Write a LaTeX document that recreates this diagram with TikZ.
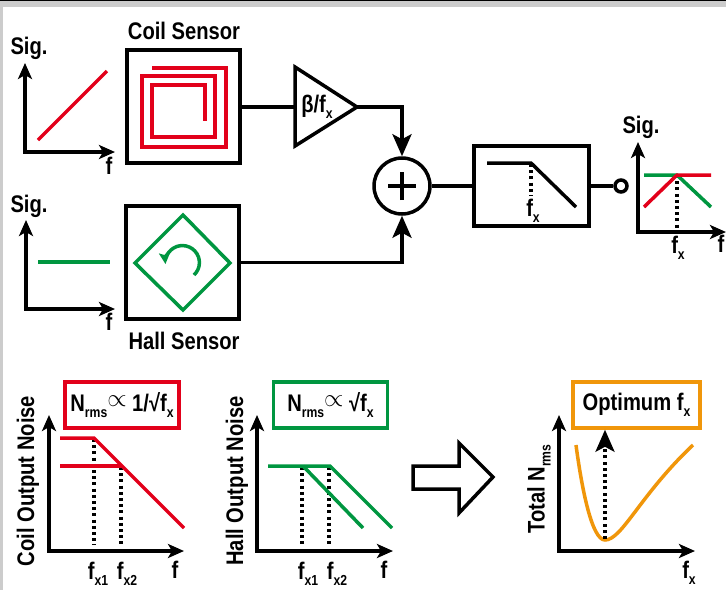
\documentclass[tikz,border=0pt]{standalone}
\usepackage{fontspec}
\setmainfont[FakeStretch=0.84]{Liberation Sans}
\usetikzlibrary{arrows.meta}
\definecolor{coilred}{RGB}{226,0,26}
\definecolor{hallgreen}{RGB}{0,150,64}
\definecolor{optorange}{RGB}{240,150,10}
\newcommand{\lowtxt}[1]{\raisebox{-6pt}{\fontsize{14.5}{14.5}\selectfont #1}}
\tikzset{axistip/.tip={Stealth[length=16pt,width=14pt,inset=4pt]}}
\tikzset{sumtip/.tip={Stealth[length=22pt,width=19pt,inset=5pt]}}
\tikzstyle{txt}=[font=\bfseries\fontsize{24}{24}\selectfont,inner sep=0pt,outer sep=0pt]
\tikzstyle{block}=[draw,line width=3.5pt,minimum width=113pt,minimum height=113pt,inner sep=0pt]
\tikzstyle{notebox}=[draw,line width=3.5pt,minimum width=114pt,minimum height=46pt,inner sep=0pt,font=\bfseries\fontsize{24}{24}\selectfont]
\tikzstyle{wire}=[draw,line width=3.5pt]
\tikzstyle{axisline}=[draw,line width=3.5pt,axistip-axistip]
\tikzstyle{trace}=[draw,line width=3.5pt]
\tikzstyle{dotline}=[draw,line width=3.2pt,dash pattern=on 3pt off 3.2pt]
\begin{document}
\begin{tikzpicture}[x=1pt,y=-1pt]
\useasboundingbox (0,0) rectangle (726,590);
% page edge
\fill[black!20] (0,0) rectangle (726,7);
\fill[black!20] (0,0) rectangle (3,590);
\fill[black] (0,0) rectangle (726,1);
% sensors
\node[block] (coil) at (183.5,106.5) {};
\node[block] (hall) at (182.5,262.5) {};
\node[txt] (coiltxt) at (184,31) {Coil Sensor};
\node[txt] (halltxt) at (184,341) {Hall Sensor};
\draw[trace,coilred] (152,68) -- (226,68) -- (226,147) -- (142,147) -- (142,76) -- (215,76)
    -- (215,137) -- (152,137) -- (152,85) -- (205,85) -- (205,121);
\draw[trace,hallgreen] (183,215) -- (230,263) -- (183,310) -- (135,263) -- cycle;
\draw[trace,hallgreen,-{Stealth[length=11pt,width=11pt,inset=2pt]}] (194,275) arc[start angle=47,end angle=-185,radius=17];
% gain and sum
\coordinate (ampin) at (295,107);
\coordinate (amptip) at (357,107);
\draw[wire] (295,67) -- (357,107) -- (295,146) -- cycle;
\node[txt] (amptxt) at (317,107) {β/f\lowtxt{x}};
\node[circle,draw,line width=3.5pt,minimum size=56pt,inner sep=0pt] (sum) at (402,186) {};
\draw[line width=4.5pt] ([xshift=-14pt]sum.center) -- ([xshift=14pt]sum.center);
\draw[line width=4.5pt] ([yshift=-14pt]sum.center) -- ([yshift=14pt]sum.center);
\draw[wire] (coil.east |- ampin) -- (ampin);
\draw[wire,-sumtip] (amptip) -| (sum.north);
\draw[wire,-sumtip] (hall.east) -| (sum.south);
% filter
\node[block,minimum width=115pt,minimum height=80pt] (filter) at (531.5,186) {};
\node[circle,draw,line width=3.5pt,minimum size=12pt,inner sep=0pt] (outport) at (621,186) {};
\draw[wire] (sum.east) -- (filter.west);
\draw[wire] (filter.east) -- (outport.west);
\draw[wire] (487,163) -- (531,163) -- (576,207);
\draw[dotline] (531,164) -- (531,196);
\node[txt] (filterfx) at (533,211) {f\lowtxt{x}};
% axes
\foreach \name/\xa/\ya/\xb/\yb in {up/25/63/115/152,low/26/220/115/309,out/638/142/726/232,
    coiln/49/415/184/551,halln/257/415/393/551,total/559/415/695/551}{
  \coordinate (\name top) at (\xa,\ya);
  \coordinate (\name end) at (\xb,\yb);
  \draw[axisline] (\name top) |- (\name end);
}
% input and output sketches
\node[txt] (upsig) at (29,48) {Sig.};
\node[txt] (lowsig) at (29,206) {Sig.};
\node[txt] (outsig) at (641,127) {Sig.};
\node[txt] (upf) at (109,166) {f};
\node[txt] (lowf) at (109,322) {f};
\node[txt] (outf) at (721,244) {f};
\node[txt] (outfx) at (678,248) {f\lowtxt{x}};
\draw[trace,coilred] (38,140) -- (107,71);
\draw[trace,hallgreen] (38,262) -- (110,262);
\draw[dotline] (677,175) -- (677,231);
\draw[trace,hallgreen] (644,175) -- (677,175) -- (711,207);
\draw[trace,coilred] (644,207) -- (677,175) -- (711,175);
% coil noise
\node[notebox,coilred] (coilnote) at (122,405) {\textcolor{black}{N\lowtxt{rms}\raisebox{5pt}{$\propto$} 1/√f\lowtxt{x}}};
\node[txt,rotate=90] (coilylab) at (28,481) {Coil Output Noise};
\draw[dotline] (94,439) -- (94,545);
\draw[dotline] (121,467) -- (121,545);
\draw[trace,coilred] (60,438) -- (94,438) -- (184,528);
\draw[trace,coilred] (60,466) -- (122,466);
\node[txt] (coilfa) at (98,574) {f\lowtxt{x1}};
\node[txt] (coilfb) at (127,574) {f\lowtxt{x2}};
\node[txt] (coilf) at (175,570) {f};
% hall noise
\node[notebox,hallgreen] (hallnote) at (330.5,405) {\textcolor{black}{N\lowtxt{rms}\raisebox{5pt}{$\propto$} √f\lowtxt{x}}};
\node[txt,rotate=90] (hallylab) at (237,481) {Hall Output Noise};
\draw[dotline] (302,467) -- (302,545);
\draw[dotline] (329,467) -- (329,545);
\draw[trace,hallgreen] (268,466) -- (330,466) -- (392,528);
\draw[trace,hallgreen] (303,466) -- (363,528);
\node[txt] (hallfa) at (308,574) {f\lowtxt{x1}};
\node[txt] (hallfb) at (337,574) {f\lowtxt{x2}};
\node[txt] (hallf) at (384,570) {f};
% big arrow
\draw[wire] (413,466) -- (459,466) -- (459,443) -- (493,477) -- (459,513) -- (459,489) -- (413,489) -- cycle;
% total noise
\node[notebox,optorange,minimum width=127pt] (optnote) at (636.5,405) {\textcolor{black}{Optimum f\lowtxt{x}}};
\node[txt,rotate=90] (totalylab) at (539,489) {Total N\lowtxt{rms}};
\node[txt] (totalfx) at (689,573) {f\lowtxt{x}};
\draw[trace,optorange] (576,445) .. controls (582,490) and (592,540) .. (605,540) .. controls (622,540) and (640,495) .. (693,445);
\coordinate (optmin) at (605,539);
\draw[dotline,-sumtip] (optmin) -- (optmin |- optnote.south);
\end{tikzpicture}
\end{document}
